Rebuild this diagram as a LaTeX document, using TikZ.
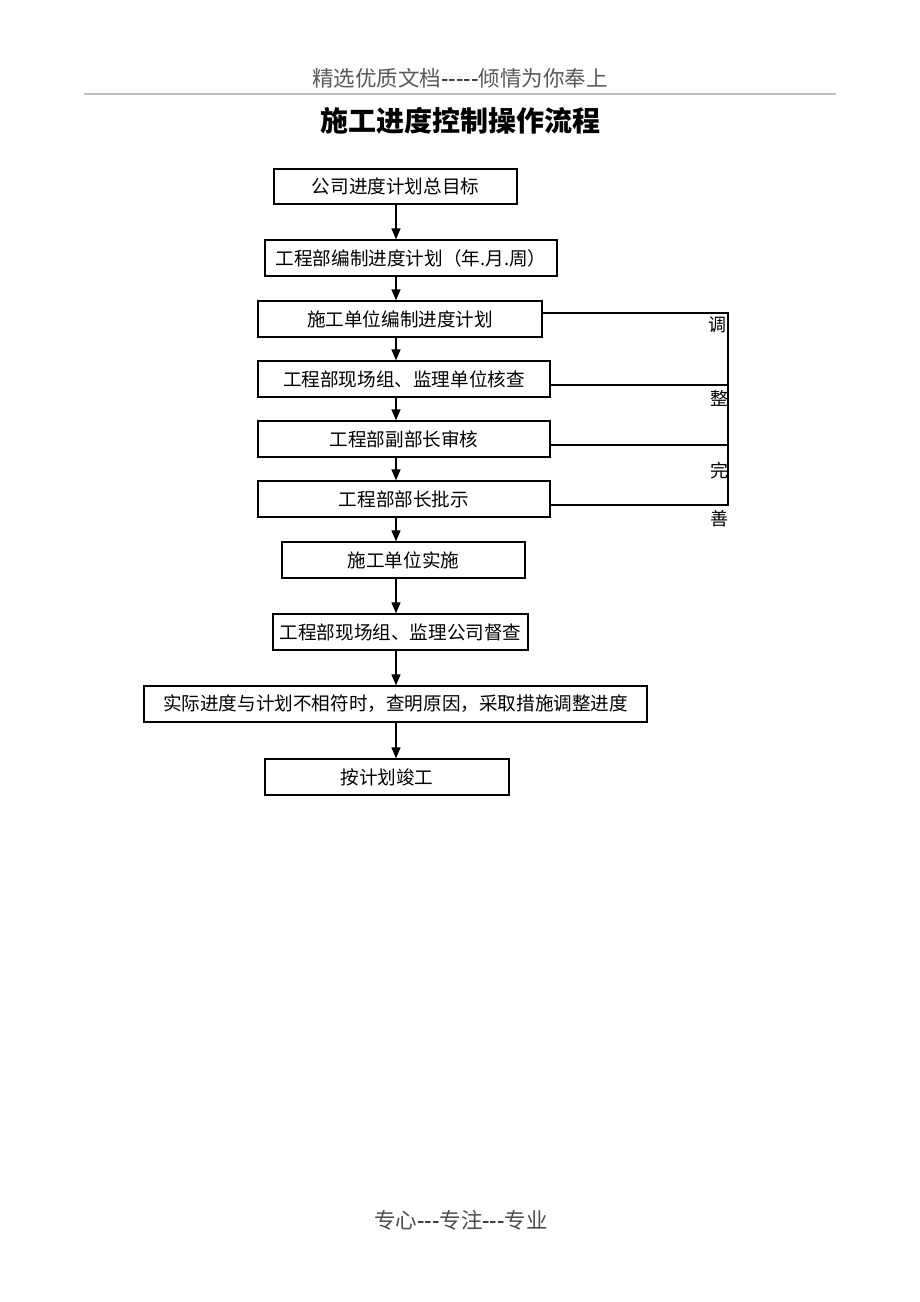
\documentclass[tikz,border=0pt]{standalone}
\usepackage{fontspec}
\setmainfont{Noto Sans CJK SC}
\newfontfamily\cjk{Noto Sans CJK SC}
\usetikzlibrary{arrows.meta}
\begin{document}
\begin{tikzpicture}[x=1pt,y=-1pt,
  box/.style={draw=black,line width=1.3pt,inner sep=0pt,font=\cjk\fontsize{18.6}{20}\selectfont},
  arr/.style={line width=1.4pt,-{Triangle[length=11pt,width=9pt]}},
  fb/.style={line width=1.1pt},
  lbl/.style={font=\cjk\fontsize{18}{20}\selectfont,inner sep=0pt}]
\useasboundingbox (0,0) rectangle (920,1302);
\fill[white] (0,0) rectangle (920,1302);
% header
\node[font=\cjk\fontsize{21.5}{23}\selectfont,text=black!65,inner sep=0pt] (hdr) at (460,78) {精选优质文档\textcolor{black}{-----}倾情为你奉上};
\draw[black!25,line width=1.5pt] (84,94) -- (836,94);
\node[font=\cjk\bfseries\fontsize{28}{30}\selectfont,inner sep=0pt] (title) at (460,121) {施工进度控制操作流程};
% boxes
\node[box,minimum width=243pt,minimum height=35pt] (b1) at (395.5,186.5) {公司进度计划总目标};
\node[box,minimum width=292pt,minimum height=36pt] (b2) at (411,258) {工程部编制进度计划（年.月.周）};
\node[box,minimum width=284pt,minimum height=36pt] (b3) at (400,319) {施工单位编制进度计划};
\node[box,minimum width=292pt,minimum height=36pt] (b4) at (404,379) {工程部现场组、监理单位核查};
\node[box,minimum width=292pt,minimum height=36pt] (b5) at (404,439) {工程部副部长审核};
\node[box,minimum width=292pt,minimum height=36pt] (b6) at (404,499) {工程部部长批示};
\node[box,minimum width=243pt,minimum height=36pt] (b7) at (403.5,560) {施工单位实施};
\node[box,minimum width=255pt,minimum height=36pt] (b8) at (400.5,632) {工程部现场组、监理公司督查};
\node[box,minimum width=503pt,minimum height=36pt] (b9) at (395.5,704) {实际进度与计划不相符时，查明原因，采取措施调整进度};
\node[box,minimum width=244pt,minimum height=36pt] (b10) at (387,777) {按计划竣工};
% arrows
\foreach \a/\b in {b1/b2,b2/b3,b3/b4,b4/b5,b5/b6,b6/b7,b7/b8,b8/b9,b9/b10}
  \draw[arr] (\a.south -| 396,0) -- (\b.north -| 396,0);
% feedback
\coordinate (c3) at (728,313);
\coordinate (c6) at (728,505);
\draw[fb] (b3.east |- c3) -- (c3) -- (c6) -- (b6.east |- c6);
\draw[fb] (b4.east |- 0,385) -- (728,385);
\draw[fb] (b5.east |- 0,445) -- (728,445);
\node[lbl] (l1) at (717,325) {调};
\node[lbl] (l2) at (719,398) {整};
\node[lbl] (l3) at (719,471) {完};
\node[lbl] (l4) at (719,519) {善};
% footer
\node[font=\cjk\fontsize{21.5}{23}\selectfont,text=black!70,inner sep=0pt] (ftr) at (461,1220) {专心\textcolor{black}{---}专注\textcolor{black}{---}专业};
\end{tikzpicture}
\end{document}
